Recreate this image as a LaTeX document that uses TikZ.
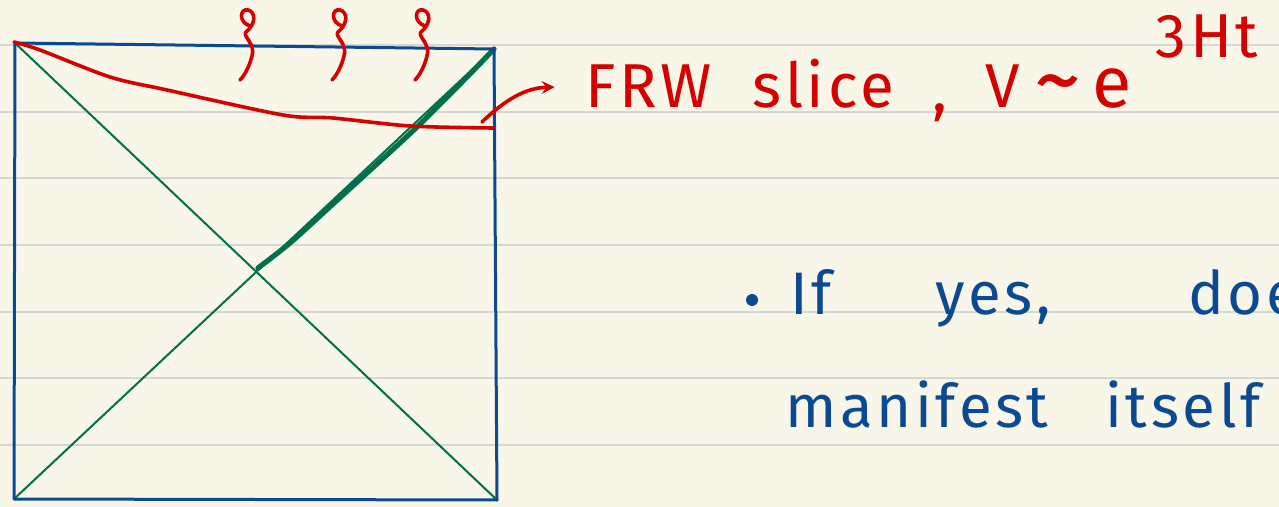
\documentclass[tikz,border=0pt]{standalone}
\usepackage{fontspec}
\setmainfont{Fira Sans}
\definecolor{paper}{HTML}{F8F6E8}
\definecolor{ruling}{HTML}{D6D6D6}
\definecolor{inkblue}{HTML}{0B4A92}
\definecolor{inkgreen}{HTML}{00704A}
\definecolor{inkred}{HTML}{D50000}
\begin{document}
\begin{tikzpicture}[>=stealth, x=0.5pt, y=-0.5pt, line cap=round, line join=round,
  ruleline/.style={ruling, line width=1pt},
  frame/.style={inkblue, line width=1.5pt},
  lightray/.style={inkgreen, line width=1pt},
  horizon/.style={inkgreen, line width=2.6pt},
  slice/.style={inkred, line width=1.8pt},
  redword/.style={inkred, anchor=base west, inner sep=0pt, font=\fontsize{31}{36}\selectfont\addfontfeature{LetterSpace=6}},
  blueword/.style={inkblue, anchor=base west, inner sep=0pt, font=\fontsize{30}{36}\selectfont\addfontfeature{LetterSpace=6}}]
\fill[paper] (0,0) rectangle (1279,507);
\clip (0,0) rectangle (1279,507);
\foreach \k in {0,...,6}
  \draw[ruleline] (0,{45+66.67*\k}) -- (1279,{45+66.67*\k});
% conformal diagram
\coordinate (tl) at (15,43);
\coordinate (tr) at (494,49);
\coordinate (bl) at (14,499);
\coordinate (br) at (497,500);
\draw[lightray] (tl) -- (br);
\draw[lightray] (bl) -- (tr);
\draw[horizon] plot[smooth] coordinates {(258,268) (290,243) (333,204) (367,173) (417,127) (467,77) (494,49)};
\draw[frame] (tl) -- (tr) -- (br) -- (bl) -- cycle;
% FRW slice
\draw[slice] plot[smooth] coordinates {(14,42) (40,50) (110,77) (167,90) (283,115) (333,118) (410,126) (493,128)};
\coordinate (sliceend) at (482,122);
\foreach \sx in {240,332,415}
  \draw[slice, shift={(\sx,0)}] (10,26) .. controls (-2,22) and (0,8) .. (8,10)
    .. controls (16,12) and (16,24) .. (6,32) .. controls (2,36) and (16,44) .. (12,56)
    .. controls (9,68) and (4,76) .. (0,80);
\node[inner sep=0pt] (tip) at (556,87) {};
\draw[slice, ->] (sliceend) .. controls (505,100) and (525,88) .. (tip);
\node[redword] (frw) at (585,108) {FRW};
\node[redword] (slc) at (752,108) {slice};
\node[redword] (cma) at (932,112) {,};
\node[redword] (vol) at (985,108) {V};
\node[redword, font=\fontsize{48}{50}\selectfont] (sim) at (1034,112) {\char`\~};
\node[redword, font=\fontsize{36}{40}\selectfont] (ee) at (1092,108) {e};
\node[redword] (exps) at (1155,58) {3Ht};
% question
\fill[inkblue] (752,300) circle (6);
\node[blueword] (if) at (790,315) {If};
\node[blueword] (yes) at (935,315) {yes,};
\node[blueword] (does) at (1188,315) {does};
\node[blueword] (mani) at (785,428) {manifest};
\node[blueword] (itself) at (1105,428) {itself};
\end{tikzpicture}
\end{document}
